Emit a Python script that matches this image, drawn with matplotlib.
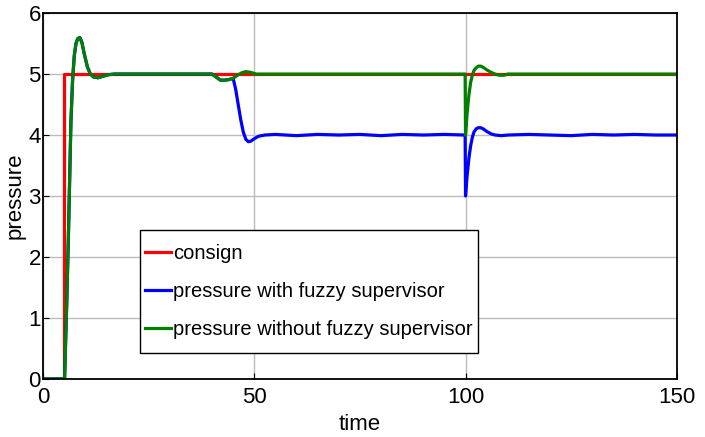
import matplotlib
matplotlib.use("Agg")
import matplotlib.pyplot as plt
from matplotlib.patches import Rectangle

# consign (set point)
t_consign = [0, 5.0, 5.0, 150]
p_consign = [0, 0, 5.0, 5.0]

# pressure with fuzzy supervisor
t_fuzzy = [0, 5.1, 5.6, 6.0, 6.6, 7.0, 7.4, 7.8, 8.2, 8.7, 9.2, 9.8, 10.5, 11.2, 12.0,
           13.0, 14.0, 15.5, 17.0, 20.0, 40.0, 41.0, 42.0, 43.0, 44.0, 45.0, 45.6,
           46.2, 46.8, 47.4, 48.0, 48.6, 49.2, 50.0, 51.0, 52.5, 55, 60, 65, 70, 75,
           80, 85, 90, 95, 99.9, 100.0, 100.4, 100.8, 101.2, 101.6, 102.0, 102.5,
           103.0, 103.6, 104.2, 105.0, 106.0, 107.0, 108.5, 110, 115, 120, 125, 130,
           135, 140, 145, 150]
p_fuzzy = [0, 0, 1.2, 2.3, 4.2, 4.9, 5.3, 5.5, 5.58, 5.6, 5.52, 5.32, 5.12, 5.0, 4.95,
           4.94, 4.96, 4.99, 5.0, 5.0, 5.0, 4.95, 4.9, 4.9, 4.91, 4.93, 4.75,
           4.5, 4.25, 4.05, 3.93, 3.89, 3.9, 3.94, 3.98, 4.0, 4.01, 3.99, 4.01, 4.0, 4.01,
           3.99, 4.01, 4.0, 4.01, 4.0, 3.0, 3.35, 3.62, 3.82, 3.96, 4.05, 4.1,
           4.12, 4.12, 4.1, 4.06, 4.02, 4.0, 3.99, 4.0, 4.01, 4.0, 3.99, 4.01,
           4.0, 4.01, 4.0, 4.0]

# pressure without fuzzy supervisor
t_plain = [0, 5.1, 5.6, 6.0, 6.6, 7.0, 7.4, 7.8, 8.2, 8.7, 9.2, 9.8, 10.5, 11.2, 12.0,
           13.0, 14.0, 15.5, 17.0, 20.0, 40.0, 41.0, 42.0, 43.0, 44.0, 45.0, 46.0,
           47.0, 48.0, 49.0, 50.5, 52.0, 99.9, 100.0, 100.4, 100.8, 101.2, 101.6,
           102.0, 102.5, 103.0, 103.6, 104.2, 105.0, 106.0, 107.0, 108.0, 109.0,
           110.0, 150]
p_plain = [0, 0, 1.2, 2.3, 4.2, 4.9, 5.3, 5.5, 5.58, 5.6, 5.52, 5.32, 5.12, 5.0, 4.95,
           4.94, 4.96, 4.99, 5.0, 5.0, 5.0, 4.95, 4.9, 4.9, 4.91, 4.93, 4.98,
           5.02, 5.04, 5.03, 5.0, 5.0, 5.0, 4.0, 4.38, 4.66, 4.86, 4.98,
           5.06, 5.1, 5.13, 5.13, 5.11, 5.07, 5.03, 5.0, 4.98, 4.98,
           5.0, 5.0]

x_ticks = [0, 50, 100, 150]
y_ticks = [0, 1, 2, 3, 4, 5, 6]
labels = ["consign", "pressure with fuzzy supervisor", "pressure without fuzzy supervisor"]

font = ["Liberation Sans", "DejaVu Sans"]
line_w = 2.3

fig = plt.figure(figsize=(7.05, 4.37), dpi=100)
ax = fig.add_axes([0.061, 0.133, 0.899, 0.837])

ax.plot(t_consign, p_consign, color="#ff0000", lw=line_w)
ax.plot(t_fuzzy, p_fuzzy, color="#0000ff", lw=line_w)
ax.plot(t_plain, p_plain, color="#008000", lw=line_w)

ax.set_xlim(0, 150)
ax.set_ylim(0, 6)
ax.set_xticks(x_ticks)
ax.set_yticks(y_ticks)
ax.grid(True, color="#bcbcbc", lw=1.0)
ax.tick_params(direction="in", length=4, width=0.8, labelsize=16)
ax.tick_params(axis="x", pad=6)
ax.tick_params(axis="y", pad=1.5)
for lab in ax.get_xticklabels() + ax.get_yticklabels():
    lab.set_family(font)
for sp in ax.spines.values():
    sp.set_linewidth(1.3)

ax.set_xlabel("time", fontsize=16, family=font, labelpad=4)
ax.set_ylabel("pressure", fontsize=16, family=font)
ax.yaxis.set_label_coords(-0.027, 0.5)

# legend box drawn separately so it can be taller than the text needs
box = Rectangle((0.153, 0.071), 0.533, 0.336, transform=ax.transAxes,
                facecolor="white", edgecolor="black", lw=1.0, zorder=4.5)
ax.add_patch(box)
leg = ax.legend(labels, loc="center", bbox_to_anchor=(0.4195, 0.239),
                prop={"family": font, "size": 14.5}, frameon=False,
                handlelength=1.3, handletextpad=0.12, borderpad=0.2, labelspacing=0.95,
                borderaxespad=0)
leg.set_zorder(5)

fig.savefig("out.png", dpi=100)
